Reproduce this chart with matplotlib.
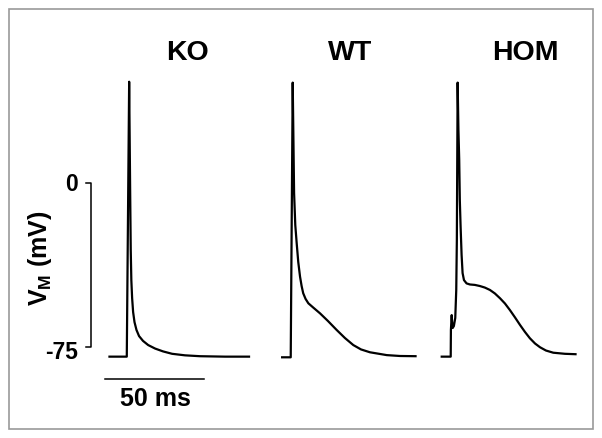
import matplotlib
matplotlib.use("Agg")
import matplotlib.pyplot as plt
from matplotlib.patches import Rectangle

plt.rcParams['font.family'] = ['Liberation Sans', 'DejaVu Sans']
plt.rcParams['mathtext.fontset'] = 'custom'
plt.rcParams['mathtext.rm'] = 'Liberation Sans:bold'
plt.rcParams['mathtext.it'] = 'Liberation Sans:bold'

# traces: time (ms, from trace start), membrane potential (mV)
ko_t = [0, 9.3, 10.5, 11.0, 11.3, 11.6, 12.0, 12.5, 13.2, 14.2, 15.5, 17.5, 20.1,
        23.6, 27.6, 32.2, 38.7, 46.3, 58.9, 71.6]
ko_v = [-79.4, -79.4, 46.3, -3.2, -30.6, -44.4, -52.6, -59.0, -63.6, -67.2, -70.0,
        -72.2, -74.1, -75.7, -77.0, -78.1, -78.8, -79.2, -79.4, -79.4]

wt_t = [0, 4.9, 5.9, 6.6, 7.2, 7.9, 8.7, 9.6, 10.4, 11.2, 12.4, 13.8, 16.2, 19.7,
        23.7, 28.1, 32.3, 36.5, 40.4, 44.9, 53.4, 60.1, 68.5]
wt_v = [-79.7, -79.7, 45.9, -4.6, -19.2, -27.4, -36.1, -42.8, -47.1, -50.4, -53.0,
        -55.0, -56.9, -59.6, -63.1, -67.2, -70.9, -74.1, -76.1, -77.4, -78.7, -79.1,
        -79.2]

hom_t = [0, 5.1, 5.2, 5.6, 5.8, 6.1, 6.7, 7.4, 7.9, 8.2, 8.6, 9.0, 9.4, 9.7, 10.1,
         10.6, 11.1, 11.8, 13.1, 14.8, 17.3, 19.8, 22.3, 24.9, 27.4, 30.0, 32.5,
         35.0, 37.6, 40.1, 42.6, 45.1, 47.7, 50.2, 53.2, 56.9, 62.8, 68.7]
hom_v = [-79.4, -79.4, -67.2, -60.4, -63.6, -66.3, -65.4, -61.7, -48.9, -26.1, 45.9,
         24.2, 10.5, -7.8, -20.0, -32.9, -41.2, -44.4, -45.9, -46.4, -46.6, -47.1,
         -47.8, -48.9, -50.5, -52.7, -55.1, -58.1, -61.5, -64.9, -68.1, -71.0, -73.4,
         -75.1, -76.6, -77.6, -78.1, -78.3]

labels = ['KO', 'WT', 'HOM']
starts = [1.7, 88.9, 169.5]   # where each trace begins (ms)
title_x = [41.9, 123.7, 212.1]

fig = plt.figure(figsize=(6.02, 4.38), dpi=100)
ax = fig.add_axes([0, 0, 1, 1])
ax.set_xlim(-105 / 1.98, (602 - 105) / 1.98)
ax.set_ylim((183 - 438) / 2.187, 183 / 2.187)
ax.axis('off')

for (t, v), t0 in zip([(ko_t, ko_v), (wt_t, wt_v), (hom_t, hom_v)], starts):
    ax.plot([t0 + x for x in t], v, color='black', lw=1.6,
            solid_joinstyle='round', solid_capstyle='butt')

for lab, x in zip(labels, title_x):
    ax.text(x, 59.4, lab, ha='center', va='center', fontsize=20.5, fontweight='bold')

# voltage scale bar (0 to -75 mV)
ax.plot([-9.6, -7.1, -7.1, -9.6], [0, 0, -75, -75], color='black', lw=1.1)
ax.text(-13.6, -0.9, '0', ha='right', va='center', fontsize=16.5, fontweight='bold')
ax.text(-13.6, -77.7, '-75', ha='right', va='center', fontsize=16.5, fontweight='bold')
ax.text(-32.8, -34.3, r'V$_{\rm M}$ (mV)', ha='center', va='center', rotation=90,
        fontsize=18, fontweight='bold')

# time scale bar
ax.plot([0, 50], [-89.6, -89.6], color='black', lw=1.1)
ax.text(25.3, -98.8, '50 ms', ha='center', va='center', fontsize=18, fontweight='bold')

fig.patches.append(Rectangle((9.3 / 602, 1 - 429.3 / 438), 583.4 / 602, 420 / 438,
                             transform=fig.transFigure, fill=False,
                             edgecolor='#999999', lw=1.2))

fig.savefig('out.png', dpi=100)
